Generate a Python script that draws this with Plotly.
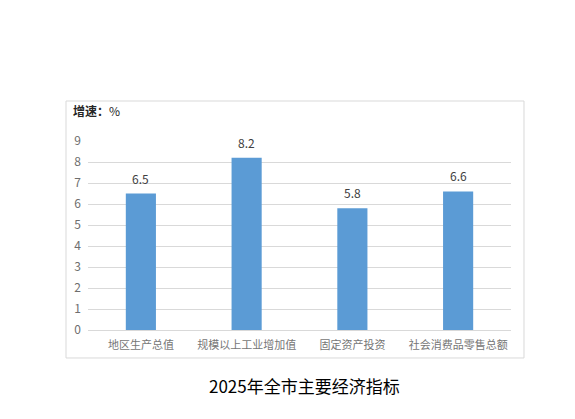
import plotly.graph_objects as go

# 2025年全市主要经济指标 (增速 %)
categories = ['地区生产总值', '规模以上工业增加值', '固定资产投资', '社会消费品零售总额']
growth = [6.5, 8.2, 5.8, 6.6]
y_ticks = [0, 1, 2, 3, 4, 5, 6, 7, 8, 9]

FONT = 'Noto Sans CJK SC'

fig = go.Figure()
fig.add_trace(go.Bar(
    x=categories,
    y=growth,
    marker=dict(color='#5B9BD5', line=dict(width=0)),
    width=0.285,
))

# value labels above bars
for cat, val in zip(categories, growth):
    fig.add_annotation(x=cat, y=val, text=f'{val:.1f}', showarrow=False,
                       yanchor='bottom', yshift=5,
                       font=dict(family=FONT, size=12, color='#404040'))

# outer chart border
fig.add_shape(type='rect', xref='paper', yref='paper',
              x0=-0.052, x1=1.0307, y0=-0.148, y1=1.2116,
              line=dict(color='#D9D9D9', width=1), layer='below')

fig.add_annotation(x=-0.040, y=1.159, xref='paper', yref='paper',
                   text='<b>增速：</b>%', showarrow=False,
                   xanchor='left', yanchor='middle',
                   font=dict(family=FONT, size=12, color='#262626'))

fig.add_annotation(x=0.513, y=-0.296, xref='paper', yref='paper',
                   text='2025年全市主要经济指标', showarrow=False,
                   xanchor='center', yanchor='middle',
                   font=dict(family=FONT, size=17, color='#000000'))

fig.update_layout(
    width=575, height=419,
    margin=dict(l=88, r=64, t=141, b=89),
    paper_bgcolor='white',
    plot_bgcolor='white',
    showlegend=False,
    font=dict(family=FONT, size=11, color='#595959'),
    xaxis=dict(showline=True, linecolor='#D9D9D9', linewidth=1,
               ticks='', ticklabelstandoff=5,
               tickfont=dict(size=11, color='#767676')),
    yaxis=dict(range=[0, 9], tickvals=y_ticks, showgrid=True,
               gridcolor='#D9D9D9', zeroline=False, showline=False,
               ticks='', ticklabelstandoff=6,
               tickfont=dict(size=12, color='#6E6E6E')),
)

fig.write_html('out.html', config={'displayModeBar': False},
               post_script="document.body.style.margin='0';")
